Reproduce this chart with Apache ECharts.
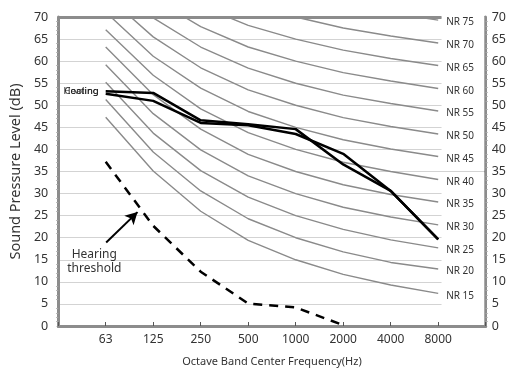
<!DOCTYPE html>
<html>
<head>
<meta charset="utf-8">
<script src="https://cdn.jsdelivr.net/npm/echarts@6/dist/echarts.min.js"></script>
<style>html,body{margin:0;padding:0;background:#fff}#c{width:509px;height:372px}</style>
</head>
<body>
<div id="c"></div>
<script>
const freqs = ['63','125','250','500','1000','2000','4000','8000'];
const yTicks = [0,5,10,15,20,25,30,35,40,45,50,55,60,65,70];
const nrNames = ['NR 15','NR 20','NR 25','NR 30','NR 35','NR 40','NR 45','NR 50','NR 55','NR 60','NR 65','NR 70','NR 75'];
const nr15 = [47.3, 35.1, 26.0, 19.4, 15.0, 11.7, 9.3, 7.4];
const nr20 = [51.3, 39.4, 30.6, 24.3, 20.0, 16.8, 14.4, 12.9];
const nr25 = [55.2, 43.7, 35.2, 29.2, 25.0, 21.9, 19.5, 17.7];
const nr30 = [59.2, 48.1, 39.9, 34.0, 30.0, 26.9, 24.7, 22.9];
const nr35 = [63.2, 52.4, 44.6, 38.9, 35.0, 32.0, 29.8, 28.1];
const nr40 = [67.1, 56.8, 49.2, 43.8, 40.0, 37.1, 35.0, 33.2];
const nr45 = [71.1, 61.1, 53.9, 48.6, 45.0, 42.2, 40.1, 38.4];
const nr50 = [75.0, 65.5, 58.5, 53.5, 50.0, 47.2, 45.2, 43.5];
const nr55 = [79.0, 69.8, 63.2, 58.4, 55.0, 52.3, 50.4, 48.7];
const nr60 = [82.9, 74.2, 67.8, 63.2, 60.0, 57.4, 55.5, 53.8];
const nr65 = [86.9, 78.5, 72.5, 68.1, 65.0, 62.5, 60.6, 59.0];
const nr70 = [90.8, 82.9, 77.1, 73.0, 70.0, 67.5, 65.7, 64.1];
const nr75 = [94.8, 87.2, 81.8, 77.8, 75.0, 72.6, 70.9, 69.3];
const nrCurves = [nr15,nr20,nr25,nr30,nr35,nr40,nr45,nr50,nr55,nr60,nr65,nr70,nr75];
const cooling = [53.2, 52.8, 46.6, 45.7, 44.6, 36.6, 30.6, 19.6];
const heating = [52.6, 51.0, 46.0, 45.5, 43.5, 39.0, 30.6, 19.6];
const hearing = [37.2, 22.7, 12.3, 5.1, 4.2, 0.2, null, null];

const chart = echarts.init(document.getElementById('c'));
const FONT = 'Noto Sans';
const toPairs = arr => arr.map((v,i) => [i+1, v]);

const series = [];
series.push({
  type:'line', data:[], z:1, silent:true,
  markArea:{silent:true, itemStyle:{color:'#fff'}, data:[
    [{coord:[8.07,0.3]},{coord:[8.97,34.85]}],
    [{coord:[8.07,35.15]},{coord:[8.97,70]}]
  ]},
  markLine:{silent:true, symbol:['none','none'], label:{show:false},
    lineStyle:{color:'#8c8c8c', width:3, type:'solid'},
    data:[[{coord:[0,70]},{coord:[8.07,70]}]]}
});
nrCurves.forEach((arr, k) => {
  const d = toPairs(arr).map((p,i) => i === arr.length-1
    ? {value:p, label:{show:true, formatter:nrNames[k], position:'right', distance:8, offset:[0,2.5], color:'#333', fontSize:10, fontFamily:FONT}}
    : {value:p});
  series.push({type:'line', name:nrNames[k], data:d, showSymbol:true, symbol:'circle', symbolSize:0, z:3, clip:true,
    label:{show:false}, lineStyle:{color:'#8a8a8a', width:1.4}, animation:false});
});
const mkEquip = (arr, name, dy) => ({
  type:'line', name, z:5, showSymbol:true, symbol:'circle', symbolSize:0, clip:true, animation:false,
  label:{show:false},
  lineStyle:{color:'#000', width:2.5},
  data: toPairs(arr).map((p,i) => i===0
    ? {value:p, label:{show:true, formatter:name, position:'left', distance:7, offset:[0,dy], color:'#222', fontSize:9.5, fontFamily:FONT}}
    : {value:p})
});
series.push(mkEquip(cooling,'Cooling',0));
series.push(mkEquip(heating,'Heating',-2.6));
series.push({
  type:'line', name:'Hearing threshold', z:5, symbol:'none', clip:false, animation:false,
  data: toPairs(hearing),
  lineStyle:{color:'#000', width:2.5, type:[9,7]},
  markLine:{silent:true, symbol:['none','arrow'], symbolSize:[10,12], label:{show:false},
    lineStyle:{color:'#000', width:2, type:'solid'},
    data:[[{coord:[1.01,18.9]},{coord:[1.67,25.8]}]]},
  markPoint:{silent:true, symbol:'circle', symbolSize:0,
    label:{show:true, formatter:'Hearing\nthreshold', color:'#333', fontSize:12, lineHeight:14, fontFamily:FONT},
    data:[{coord:[0.76,14.6]}]}
});

chart.setOption({
  animation:false,
  textStyle:{fontFamily:FONT},
  grid:{left:53, right:23, top:17, bottom:46},
  xAxis:{
    type:'value', min:0, max:9, interval:1,
    name:'Octave Band Center Frequency(Hz)', nameLocation:'middle', nameGap:30,
    nameTextStyle:{color:'#333', fontSize:11, fontFamily:FONT},
    axisLine:{show:true, lineStyle:{color:'#8c8c8c', width:3}},
    axisTick:{show:true, inside:true, length:4, lineStyle:{color:'#555'}},
    axisLabel:{color:'#333', fontSize:12, margin:8, formatter:v => freqs[v-1] || ''},
    splitLine:{show:false}
  },
  yAxis:[{
    type:'value', min:yTicks[0], max:yTicks[yTicks.length-1], interval:5, position:'left',
    name:'Sound Pressure Level (dB)', nameLocation:'middle', nameGap:33,
    nameTextStyle:{color:'#333', fontSize:14.5, fontFamily:FONT},
    axisLine:{show:true, lineStyle:{color:'#8c8c8c', width:3}},
    axisTick:{show:false},
    minorTick:{show:true, splitNumber:5, length:2, lineStyle:{color:'#aaa'}},
    axisLabel:{color:'#333', fontSize:12.5, margin:10},
    splitLine:{show:true, lineStyle:{color:'#d3d3d3', width:1}}
  },{
    type:'value', min:yTicks[0], max:yTicks[yTicks.length-1], interval:5, position:'right',
    axisLine:{show:true, lineStyle:{color:'#8c8c8c', width:3}},
    axisTick:{show:false},
    minorTick:{show:true, splitNumber:5, length:2, lineStyle:{color:'#aaa'}},
    axisLabel:{color:'#333', fontSize:12.5, margin:6},
    splitLine:{show:false}
  }],
  series
});
</script>
</body>
</html>
